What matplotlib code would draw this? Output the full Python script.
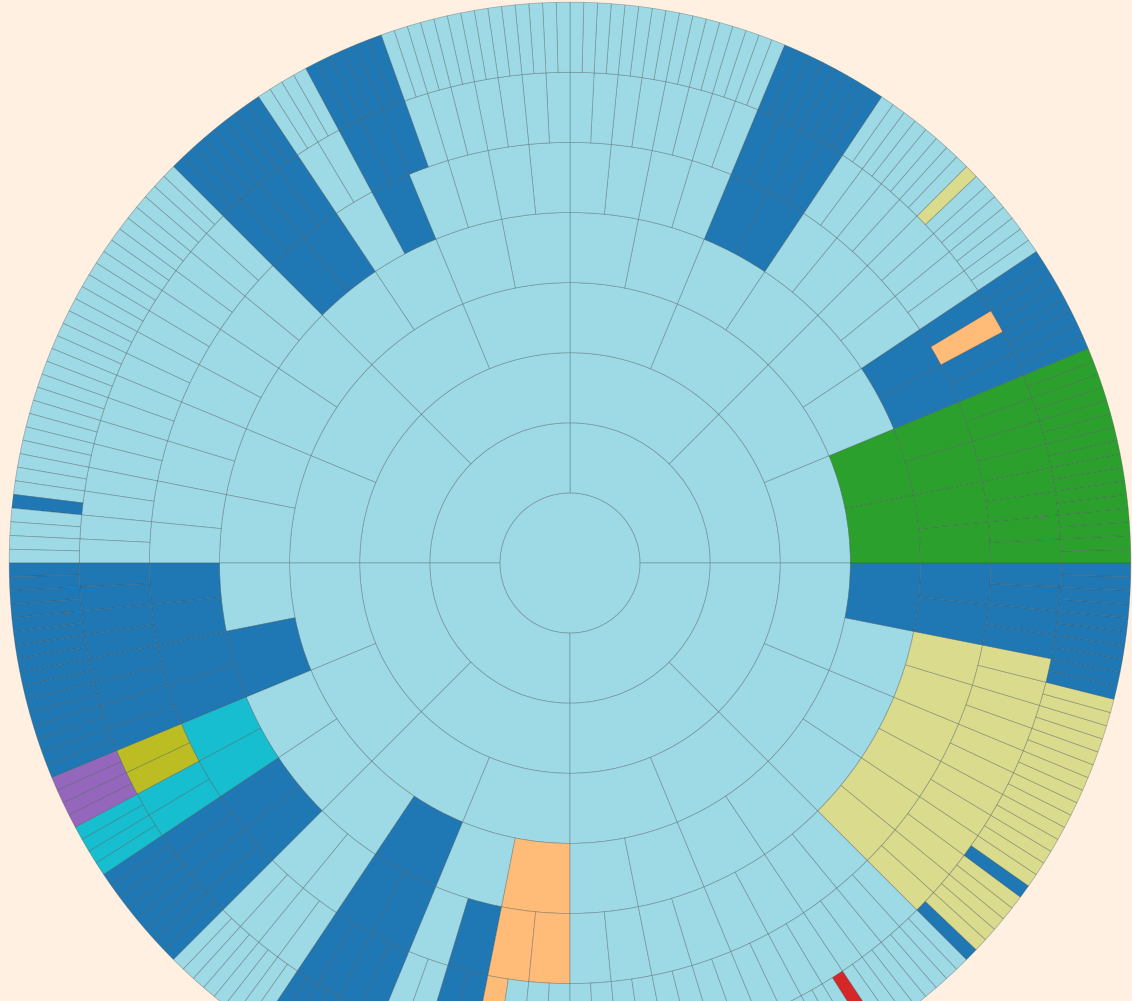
import matplotlib
matplotlib.use("Agg")
import matplotlib.pyplot as plt
from matplotlib.patches import Wedge, Circle

# ---------------- data ----------------
# number of nodes at each depth of the hierarchy (depth 0 = root)
node_counts = [1, 4, 8, 16, 32, 64, 128, 256]

# category of nodes that differ from the base category:
# (first node index, last node index inclusive, category)
depth4_runs = [(0, 1, "green"), (17, 17, "blue"), (21, 21, "blue"),
               (23, 23, "orange"), (31, 31, "blue")]
depth5_runs = [(0, 3, "green"), (4, 5, "blue"), (10, 11, "blue"), (20, 20, "blue"),
               (22, 23, "blue"), (32, 35, "blue"), (36, 37, "cyan"), (38, 39, "blue"),
               (42, 43, "blue"), (45, 45, "blue"), (46, 47, "orange"),
               (56, 61, "khaki"), (62, 63, "blue")]
depth6_runs = [(0, 7, "green"), (8, 9, "blue"), (10, 10, "orange"), (11, 11, "blue"),
               (20, 23, "blue"), (39, 41, "blue"), (44, 47, "blue"), (64, 71, "blue"),
               (72, 73, "olive"), (74, 75, "cyan"), (76, 79, "blue"), (84, 87, "blue"),
               (90, 91, "blue"), (92, 92, "orange"), (112, 123, "khaki"),
               (124, 127, "blue")]
depth7_runs = [(0, 15, "green"), (16, 23, "blue"), (31, 31, "khaki"), (40, 47, "blue"),
               (78, 83, "blue"), (88, 95, "blue"), (123, 123, "blue"), (128, 143, "blue"),
               (144, 147, "purple"), (148, 151, "cyan"), (152, 159, "blue"),
               (168, 175, "blue"), (180, 183, "blue"), (184, 185, "orange"),
               (215, 215, "red"), (224, 224, "blue"), (225, 229, "khaki"),
               (230, 230, "blue"), (231, 245, "khaki"), (246, 255, "blue")]
runs_by_depth = {4: depth4_runs, 5: depth5_runs, 6: depth6_runs, 7: depth7_runs}

palette = {
    "base": "#9edae5",
    "blue": "#1f77b4",
    "green": "#2ca02c",
    "khaki": "#dbdb8d",
    "orange": "#ffbb78",
    "cyan": "#17becf",
    "olive": "#bcbd22",
    "purple": "#9467bd",
    "red": "#d62728",
}

# ---------------- figure ----------------
bg = "#fff0e1"
W, H = 1132, 1001
cx, cy = 570, 563          # centre in pixels (from top-left)
ring = 70.1                # ring thickness in pixels

fig = plt.figure(figsize=(W / 100, H / 100), dpi=100, facecolor=bg)
ax = fig.add_axes([0, 0, 1, 1])
ax.set_facecolor(bg)
ax.set_xlim(-cx, W - cx)
ax.set_ylim(-(H - cy), cy)
ax.set_aspect("equal")
ax.axis("off")

edge = (0.22, 0.30, 0.33, 0.38)
lw = 0.55

for depth, n in enumerate(node_counts):
    cats = ["base"] * n
    for a, b, c in runs_by_depth.get(depth, []):
        for i in range(a, b + 1):
            cats[i] = c
    if depth == 0:
        ax.add_patch(Circle((0, 0), ring, facecolor=palette[cats[0]],
                            edgecolor=edge, linewidth=lw))
        continue
    step = 360.0 / n
    r_out = ring * (depth + 1)
    for i in range(n):
        ax.add_patch(Wedge((0, 0), r_out, i * step, (i + 1) * step, width=ring,
                           facecolor=palette[cats[i]], edgecolor=edge, linewidth=lw))

fig.savefig("out.png", dpi=100, facecolor=bg)
